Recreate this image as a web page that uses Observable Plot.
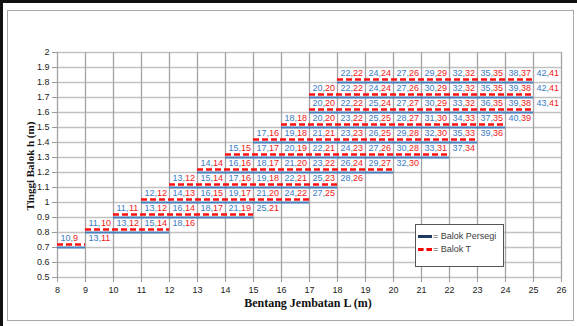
<!DOCTYPE html>
<html><head><meta charset="utf-8">
<script src="https://cdn.jsdelivr.net/npm/d3@7"></script>
<script src="https://cdn.jsdelivr.net/npm/@observablehq/plot@0.6"></script>
<style>
body{margin:0;background:#fff;}
#wrap{position:relative;width:577px;height:326px;overflow:hidden;font-family:"Liberation Sans",Arial,sans-serif;background:#fff;}
#outer{position:absolute;left:0;top:0;width:577px;height:326px;border-left:3px solid #111;border-top:3px solid #111;box-sizing:border-box;}
#inner{position:absolute;left:7px;top:10px;width:567px;height:311px;border:1.5px solid #a8a8a8;box-sizing:border-box;}
#chart{position:absolute;left:0;top:0;}
.ytitle{position:absolute;left:30px;top:166px;transform:translate(-50%,-50%) rotate(-90deg);font-family:"Liberation Serif","Times New Roman",serif;font-weight:bold;font-size:11px;white-space:nowrap;color:#111;}
.xtitle{position:absolute;left:308px;top:303px;transform:translate(-50%,-50%);font-family:"Liberation Serif","Times New Roman",serif;font-weight:bold;font-size:12px;white-space:nowrap;color:#111;}
#legend{position:absolute;left:415px;top:224px;width:89px;height:43px;border:1px solid #555;background:#fff;box-sizing:border-box;font-size:9px;color:#404040;}
.lg{position:absolute;left:2px;height:14px;line-height:14px;white-space:nowrap;}
.sw{display:inline-block;width:14px;height:0;vertical-align:middle;margin-right:1px;}
</style></head>
<body>
<div id="wrap">
  <div id="outer"></div>
  <div id="inner"></div>
  <div id="chart"></div>
  <div class="ytitle">Tinggi Balok h (m)</div>
  <div class="xtitle">Bentang Jembatan L (m)</div>
  <div id="legend">
    <div class="lg" style="top:4px"><span class="sw" style="border-top:3px solid #1f3a60"></span>= Balok Persegi</div>
    <div class="lg" style="top:17px"><span class="sw" style="border-top:3px dashed #ff0000"></span>= Balok T</div>
  </div>
</div>
<script>
// x ticks (span L, m) and y ticks (height h, m)
const spanTicks = [8,9,10,11,12,13,14,15,16,17,18,19,20,21,22,23,24,25,26];
const heightTicks = [0.5,0.6,0.7,0.8,0.9,1.0,1.1,1.2,1.3,1.4,1.5,1.6,1.7,1.8,1.9,2.0];

// beam heights with their ranges of spans
const levels    = [0.7, 0.8, 0.9, 1.0, 1.1, 1.2, 1.3, 1.4, 1.5, 1.6, 1.7, 1.8];
const firstSpan = [8,   9,   10,  11,  12,  13,  14,  15,  16,  17,  17,  18];
const lastSpan  = [9,   12,  15,  17,  18,  20,  22,  23,  24,  25,  25,  25];

// labels per level: Balok Persegi value (blue), Balok T value (red)
const persegiVals = [
  [10,13],
  [11,13,15,18],
  [11,13,16,18,21,25],
  [12,14,16,19,21,24,27],
  [13,15,17,19,22,25,28],
  [14,16,18,21,23,26,29,32],
  [15,17,20,22,24,27,30,33,37],
  [17,19,21,23,26,29,32,35,39],
  [18,20,23,25,28,31,34,37,40],
  [20,22,25,27,30,33,36,39,43],
  [20,22,24,27,30,32,35,39,42],
  [22,24,27,29,32,35,38,42]
];
const tVals = [
  [9,11],
  [10,12,14,16],
  [11,12,14,17,19,21],
  [12,13,15,17,20,22,25],
  [12,14,16,18,21,23,26],
  [14,16,17,20,22,24,27,30],
  [15,17,19,21,23,26,28,31,34],
  [16,18,21,23,25,28,30,33,36],
  [18,20,22,25,27,30,33,35,39],
  [20,22,24,27,29,32,35,38,41],
  [20,22,24,26,29,32,35,38,41],
  [22,24,26,29,32,35,37,41]
];

const segs = levels.map((h,i) => ({h, x1: firstSpan[i], x2: lastSpan[i]}));
const labs = levels.flatMap((h,i) => persegiVals[i].map((p,j) => ({h, L: firstSpan[i] + j, p, t: tVals[i][j]})));

const tShift = 0.02, labShift = 0.063;

const chart = Plot.plot({
  width: 577, height: 326,
  marginLeft: 57, marginRight: 16, marginTop: 52, marginBottom: 49,
  style: {fontFamily: '"Liberation Sans", Arial, sans-serif', fontSize: "9px", color: "#222", background: "transparent"},
  x: {domain: [8, 26]},
  y: {domain: [0.5, 2]},
  marks: [
    Plot.gridY(heightTicks, {stroke: "#c2c2c2", strokeOpacity: 1, strokeWidth: 1.6}),
    Plot.gridX(spanTicks, {stroke: "#a4a4a4", strokeOpacity: 1, strokeWidth: 1.3}),
    Plot.axisX({ticks: spanTicks, tickSize: 5, tickPadding: 4, stroke: "#999", fill: "#222", label: null, tickFormat: d => String(d)}),
    Plot.axisY({ticks: heightTicks, tickSize: 5, tickPadding: 3, stroke: "#999", fill: "#222", label: null, tickFormat: d => String(+d.toFixed(1))}),
    Plot.ruleY(segs, {y: "h", x1: "x1", x2: "x2", stroke: "#4a7ebb", strokeWidth: 2}),
    Plot.ruleY(segs, {y: d => d.h + tShift, x1: "x1", x2: "x2", stroke: "#ff1010", strokeWidth: 2.5, strokeDasharray: "6,3"}),
    Plot.text(labs, {x: "L", y: d => d.h + labShift, text: d => d.p + ",", textAnchor: "start", dx: 3, fill: "#3b7cc4", fontSize: 9}),
    Plot.text(labs, {x: "L", y: d => d.h + labShift, text: d => String(d.t), textAnchor: "start", dx: 15.5, fill: "#f01818", fontSize: 9})
  ]
});
document.getElementById("chart").appendChild(chart);
</script>
</body></html>
